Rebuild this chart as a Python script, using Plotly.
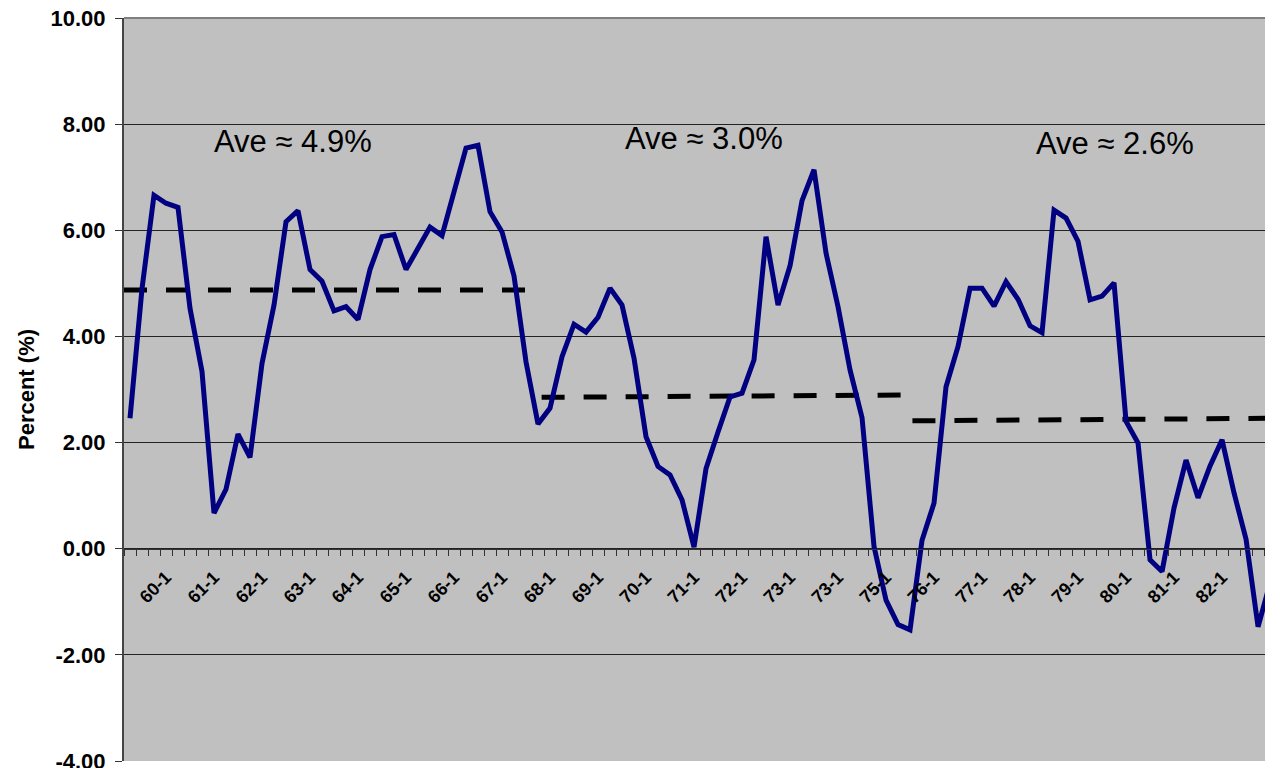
import plotly.graph_objects as go

# Quarterly values (percent), one per category slot
values = [
    2.46, 4.90, 6.66, 6.51, 6.43, 4.53, 3.34, 0.67, 1.12, 2.16,
    1.72, 3.49, 4.59, 6.16, 6.37, 5.26, 5.04, 4.48, 4.56, 4.32,
    5.26, 5.88, 5.92, 5.26, 5.66, 6.06, 5.90, 6.76, 7.55, 7.60,
    6.35, 5.97, 5.14, 3.52, 2.35, 2.65, 3.62, 4.23, 4.08, 4.36,
    4.91, 4.59, 3.59, 2.11, 1.55, 1.39, 0.92, 0.03, 1.51, 2.20,
    2.86, 2.93, 3.56, 5.88, 4.59, 5.33, 6.56, 7.14, 5.57, 4.56,
    3.37, 2.47, 0.04, -0.97, -1.43, -1.53, 0.16, 0.86, 3.05, 3.81,
    4.91, 4.91, 4.57, 5.03, 4.70, 4.20, 4.07, 6.38, 6.23, 5.79,
    4.69, 4.76, 5.01, 2.40, 1.99, -0.21, -0.43, 0.77, 1.67, 0.96,
    1.56, 2.05, 1.05, 0.18, -1.47, -0.65,
]
x_index = list(range(len(values)))

tick_pos = [3 + 4 * k for k in range(23)]
tick_text = ["60-1", "61-1", "62-1", "63-1", "64-1", "65-1", "66-1", "67-1",
             "68-1", "69-1", "70-1", "71-1", "72-1", "73-1", "73-1", "75-1",
             "76-1", "77-1", "78-1", "79-1", "80-1", "81-1", "82-1"]

y_tickvals = [-4, -2, 0, 2, 4, 6, 8, 10]
y_ticktext = ["-4.00", "-2.00", "0.00", "2.00", "4.00", "6.00", "8.00", "10.00"]

# Period average (trend) segments: start/end x index and y value
avg_x = [[-0.5, 33.0], [34.3, 64.5], [65.2, 96.0]]
avg_y = [[4.875, 4.875], [2.853, 2.896], [2.41, 2.459]]

ann_text = ["Ave \u2248 4.9%", "Ave \u2248 3.0%", "Ave \u2248 2.6%"]
ann_x = [13.6, 47.8, 82.1]
ann_y = [7.68, 7.73, 7.63]

FONT = "Liberation Sans, Arial, sans-serif"

fig = go.Figure()

for xs, ys in zip(avg_x, avg_y):
    fig.add_trace(go.Scatter(x=xs, y=ys, mode="lines",
                             line=dict(color="black", width=5, dash="23px,19px"),
                             showlegend=False, hoverinfo="skip"))

fig.add_trace(go.Scatter(x=x_index, y=values, mode="lines",
                         line=dict(color="#000080", width=5),
                         showlegend=False))

for t, ax, ay in zip(ann_text, ann_x, ann_y):
    fig.add_annotation(x=ax, y=ay, xref="x", yref="y", text=t, showarrow=False,
                       font=dict(family=FONT, size=31, color="black"),
                       xanchor="center", yanchor="middle")

fig.update_layout(
    width=1265, height=768,
    margin=dict(l=124, r=0, t=18, b=7, autoexpand=False),
    paper_bgcolor="white",
    plot_bgcolor="#C0C0C0",
    showlegend=False,
    font=dict(family=FONT, color="black"),
    xaxis=dict(
        range=[-0.5, 94.58], automargin=False,
        anchor="free", position=4 / 14,
        tickmode="array", tickvals=tick_pos, ticktext=tick_text,
        tickangle=-45,
        tickfont=dict(size=18, family=FONT, weight="bold"),
        ticklabelstandoff=10,
        ticks="", showgrid=False, zeroline=False,
        showline=True, linecolor="#333333", linewidth=1,
        minor=dict(tickmode="linear", tick0=0.5, dtick=1, ticks="outside",
                   ticklen=6, tickcolor="#333333", tickwidth=1, showgrid=False),
    ),
    yaxis=dict(
        range=[-4, 10], automargin=False,
        tickmode="array", tickvals=y_tickvals, ticktext=y_ticktext,
        tickfont=dict(size=22, family=FONT, weight="bold"),
        ticks="outside", ticklen=7, tickcolor="#333333",
        ticklabelstandoff=5, ticklabeloverflow="allow",
        showgrid=True, gridcolor="#222222", gridwidth=1,
        zeroline=False,
        showline=True, linecolor="#444444", linewidth=2,
        title=dict(text="Percent (%)", standoff=10,
                   font=dict(size=22, family=FONT, weight="bold")),
    ),
)

fig.add_shape(type="line", xref="paper", yref="paper", x0=0, x1=1, y0=1, y1=1,
              line=dict(color="#808080", width=2))

post = (
    "document.body.style.margin='0';"
    "document.body.style.overflow='hidden';"
    "var gd=document.getElementById('{plot_id}');"
    "Plotly.relayout(gd,{width:1265,height:768});"
)

fig.write_html("out.html", post_script=post, config={"displayModeBar": False})
